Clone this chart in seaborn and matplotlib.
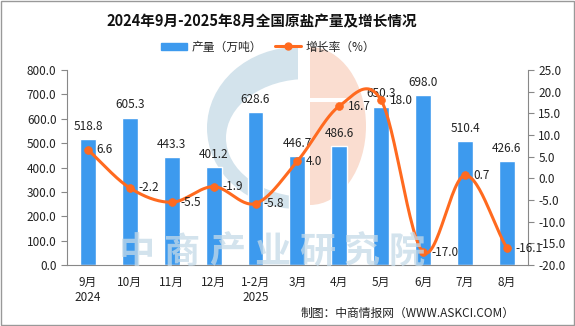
import numpy as np
import pandas as pd
import matplotlib
matplotlib.use("Agg")
import matplotlib.pyplot as plt
import seaborn as sns
from matplotlib.lines import Line2D
from matplotlib.patches import Patch, Rectangle, Ellipse

categories = ["9月\n2024", "10月", "11月", "12月", "1-2月\n2025", "3月", "4月", "5月", "6月", "7月", "8月"]
production = [518.8, 605.3, 443.3, 401.2, 628.6, 446.7, 486.6, 650.3, 698.0, 510.4, 426.6]
growth = [6.6, -2.2, -5.5, -1.9, -5.8, 4.0, 16.7, 18.0, -17.0, 0.7, -16.1]
left_ticks = [0, 100, 200, 300, 400, 500, 600, 700, 800]
right_ticks = [-20, -15, -10, -5, 0, 5, 10, 15, 20, 25]
watermark = "中商产业研究院"

sns.set_theme(style="white")
plt.rcParams['font.family'] = ['Noto Sans CJK SC', 'DejaVu Sans']
plt.rcParams['axes.unicode_minus'] = False

BAR = "#3D9AEE"
LINE = "#FF6A1F"
GRAY = "#888888"
TXT = "#222222"

fig = plt.figure(figsize=(5.75, 3.26), dpi=100)

# faint logo watermark (pixel-space overlay, drawn underneath the plot)
bg = fig.add_axes([0, 0, 1, 1], zorder=0)
bg.set_xlim(0, 575)
bg.set_ylim(326, 0)
bg.axis("off")
left_clip = Rectangle((0, 0), 298, 326, transform=bg.transData)
right_clip = Rectangle((310, 0), 265, 326, transform=bg.transData)
e1 = Ellipse((298, 128), 182, 162, facecolor="#D3E3EC", edgecolor="none")
e2 = Ellipse((307, 138), 162, 118, facecolor="white", edgecolor="none")
for e in (e1, e2):
    bg.add_patch(e)
    e.set_clip_path(left_clip)
e3 = Ellipse((310, 126), 112, 158, facecolor="#FADDD0", edgecolor="none")
bg.add_patch(e3)
e3.set_clip_path(right_clip)
bg.add_patch(Rectangle((310, 98), 40, 4, facecolor="white", edgecolor="none"))

ax = fig.add_axes([0.1165, 0.187, 0.8015, 0.598], zorder=1)
ax.patch.set_alpha(0)

df = pd.DataFrame({"cat": categories, "val": production})
sns.barplot(data=df, x="cat", y="val", color=BAR, width=0.38, ax=ax, saturation=1)
ax.set_xlim(-0.5, len(categories) - 0.5)
ax.set_ylim(0, 800)
ax.set_yticks(left_ticks)
ax.set_yticklabels([f"{v:.1f}" for v in left_ticks], fontsize=8.5, color=TXT)
ax.set_xlabel("")
ax.set_ylabel("")
ax.tick_params(axis="x", length=0, labelsize=8.5, colors=TXT, pad=8)
ax.tick_params(axis="y", length=4, color=GRAY, direction="out", width=0.8)
ax.set_xticks(np.arange(-0.5, len(categories)), minor=True)
ax.tick_params(axis="x", which="minor", length=5, color=GRAY, width=0.8, direction="out")
for s in ["top", "right"]:
    ax.spines[s].set_visible(False)
for s in ["left", "bottom"]:
    ax.spines[s].set_color(GRAY)
    ax.spines[s].set_linewidth(0.8)

for i, v in enumerate(production):
    ax.text(i, v + 25, f"{v:.1f}", ha="center", va="bottom", fontsize=8.5, color=TXT)

# text watermark
for k, ch in enumerate(watermark):
    fig.text((137 + 45 * k) / 575, 1 - 252 / 326, ch, fontsize=26, color="#C5DAE8", alpha=0.75,
             ha="center", va="center", fontweight="bold", zorder=2)

ax2 = ax.twinx()
ax2.set_ylim(-20, 25)
ax2.set_yticks(right_ticks)
ax2.set_yticklabels([f"{v:.1f}" for v in right_ticks], fontsize=8.5, color=TXT)
ax2.tick_params(axis="y", length=4, color=GRAY, direction="out", width=0.8)
for s in ["top", "left", "bottom"]:
    ax2.spines[s].set_visible(False)
ax2.spines["right"].set_color(GRAY)
ax2.spines["right"].set_linewidth(0.8)

# smooth curve (Catmull-Rom) through the data points
x = np.arange(len(growth), dtype=float)
y = np.array(growth, dtype=float)
px = np.concatenate([[2 * x[0] - x[1]], x, [2 * x[-1] - x[-2]]])
py = np.concatenate([[2 * y[0] - y[1]], y, [2 * y[-1] - y[-2]]])
sx, sy = [], []
t = np.linspace(0, 1, 30)
def cr(a0, a1, a2, a3):
    return 0.5 * ((2 * a1) + (-a0 + a2) * t + (2 * a0 - 5 * a1 + 4 * a2 - a3) * t ** 2
                  + (-a0 + 3 * a1 - 3 * a2 + a3) * t ** 3)
for k in range(1, len(px) - 2):
    sx.append(cr(px[k - 1], px[k], px[k + 1], px[k + 2]))
    sy.append(cr(py[k - 1], py[k], py[k + 1], py[k + 2]))
sx = np.concatenate(sx)
sy = np.concatenate(sy)
sns.lineplot(x=sx, y=sy, ax=ax2, color=LINE, linewidth=2.2, sort=False, estimator=None)
sns.scatterplot(x=x, y=y, ax=ax2, color=LINE, s=32, edgecolor=LINE, zorder=5)
ax2.set_xlim(-0.5, len(categories) - 0.5)
for i, v in enumerate(growth):
    ax2.text(i + 0.2, v, f"{v:.1f}", ha="left", va="center", fontsize=8.5, color=TXT, zorder=6)

fig.text(0.455, 0.935, "2024年9月-2025年8月全国原盐产量及增长情况", ha="center", va="center",
         fontsize=10.5, fontweight="bold", color="#111111")
handles = [Patch(facecolor=BAR, edgecolor=BAR),
           Line2D([0], [0], color=LINE, lw=2.2, marker="o", markersize=5)]
fig.legend(handles, ["产量（万吨）", "增长率（%）"], loc="center", bbox_to_anchor=(0.466, 0.856), ncol=2,
           frameon=False, fontsize=8.5, handlelength=2.2, handleheight=0.6, handletextpad=0.4,
           columnspacing=1.1)
fig.text(0.895, 0.04, "制图：中商情报网（WWW.ASKCI.COM）", ha="right", va="center", fontsize=8.5, color=TXT)
fig.add_artist(Rectangle((0.002, 0.003), 0.996, 0.994, transform=fig.transFigure, fill=False,
                         edgecolor="#999999", linewidth=1))
fig.savefig("out.png", dpi=100)
